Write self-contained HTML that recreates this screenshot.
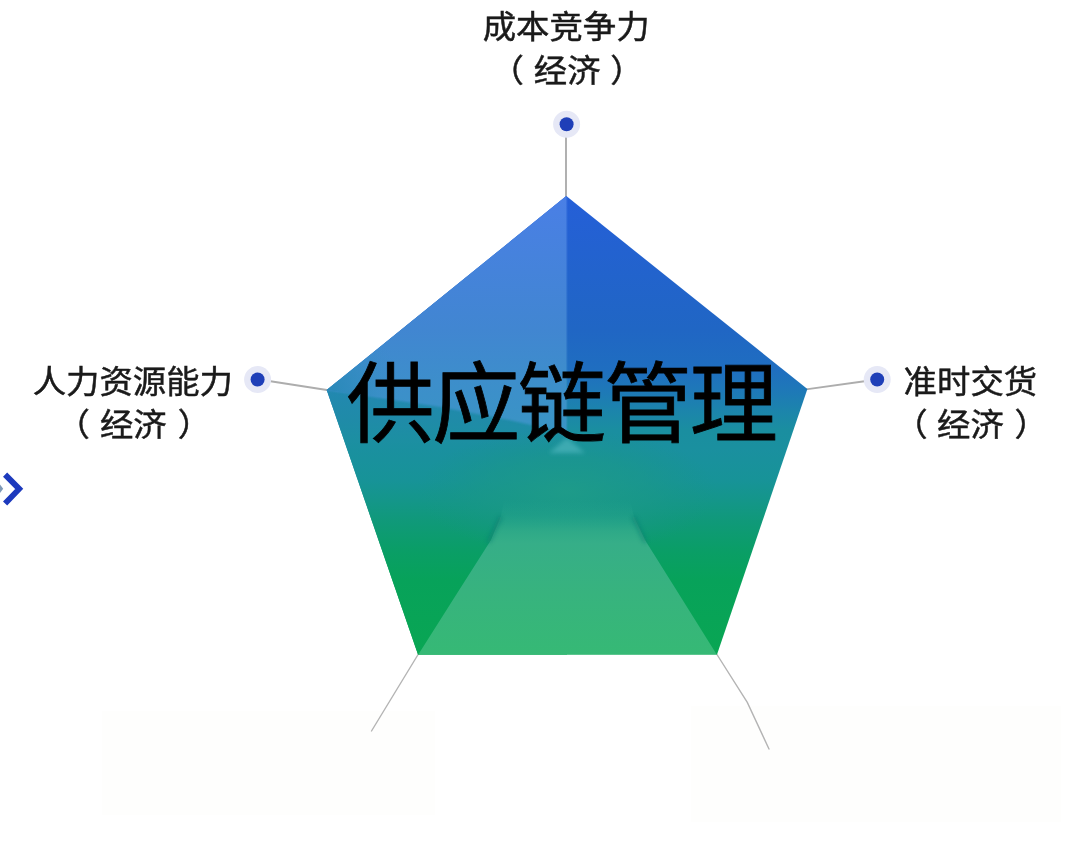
<!DOCTYPE html>
<html lang="zh-CN">
<head>
<meta charset="utf-8">
<title>供应链管理</title>
<style>
  html, body { margin: 0; padding: 0; background: #ffffff; }
  body { width: 1080px; height: 844px; overflow: hidden; position: relative; }
  svg { display: block; position: absolute; left: 0; top: 0; }
  .lbl { font-family: "Liberation Sans", "Noto Sans CJK SC", sans-serif; font-size: 33.4px; fill: #1a1a1a; font-weight: 400; stroke: #1a1a1a; stroke-width: 0.5px; }
  .title { font-family: "Liberation Sans", "Noto Sans CJK SC", sans-serif; font-size: 88px; fill: #000000; font-weight: 400; stroke: #000000; stroke-width: 0.8px; letter-spacing: -2.2px; }
</style>
</head>
<body>
<svg width="1080" height="844" viewBox="0 0 1080 844">
  <defs>
    <linearGradient id="gTL" gradientUnits="userSpaceOnUse" x1="0" y1="195" x2="0" y2="436">
      <stop offset="0.0000" stop-color="#4a7fe6"/>
      <stop offset="0.5602" stop-color="#4186d1"/>
      <stop offset="0.7676" stop-color="#3d8ecb"/>
      <stop offset="0.9336" stop-color="#3a93c6"/>
      <stop offset="1.0000" stop-color="#3995c2"/>
    </linearGradient>
    <linearGradient id="gRight" gradientUnits="userSpaceOnUse" x1="0" y1="195" x2="0" y2="655">
      <stop offset="0.0000" stop-color="#255fd8"/>
      <stop offset="0.2935" stop-color="#2066c4"/>
      <stop offset="0.3804" stop-color="#1f6ec0"/>
      <stop offset="0.4239" stop-color="#1e78b8"/>
      <stop offset="0.4674" stop-color="#1c84ac"/>
      <stop offset="0.5109" stop-color="#1a8ea0"/>
      <stop offset="0.5543" stop-color="#1a909f"/>
      <stop offset="0.6196" stop-color="#179398"/>
      <stop offset="0.6630" stop-color="#14968a"/>
      <stop offset="0.7065" stop-color="#10997a"/>
      <stop offset="0.7739" stop-color="#0a9e66"/>
      <stop offset="0.8370" stop-color="#07a25a"/>
      <stop offset="1.0000" stop-color="#09a653"/>
    </linearGradient>
    <linearGradient id="gL" gradientUnits="userSpaceOnUse" x1="0" y1="390" x2="0" y2="655">
      <stop offset="0.0000" stop-color="#2288b0"/>
      <stop offset="0.1132" stop-color="#1f8ba8"/>
      <stop offset="0.1887" stop-color="#1c8fa2"/>
      <stop offset="0.2264" stop-color="#1a909f"/>
      <stop offset="0.3396" stop-color="#179398"/>
      <stop offset="0.4151" stop-color="#14968a"/>
      <stop offset="0.4906" stop-color="#10997a"/>
      <stop offset="0.6075" stop-color="#0a9e66"/>
      <stop offset="0.7170" stop-color="#07a25a"/>
      <stop offset="1.0000" stop-color="#09a653"/>
    </linearGradient>
    <linearGradient id="gB" gradientUnits="userSpaceOnUse" x1="0" y1="500" x2="0" y2="655">
      <stop offset="0.0000" stop-color="#2aa592" stop-opacity="0"/>
      <stop offset="0.0968" stop-color="#2ea990" stop-opacity="0.3"/>
      <stop offset="0.2000" stop-color="#33ac8a" stop-opacity="0.85"/>
      <stop offset="0.2774" stop-color="#36ae88" stop-opacity="1"/>
      <stop offset="0.6000" stop-color="#37b37e"/>
      <stop offset="1.0000" stop-color="#36b975"/>
    </linearGradient>
    <radialGradient id="gC" gradientUnits="userSpaceOnUse" cx="567" cy="492" r="150" gradientTransform="translate(567 492) scale(1 0.42) translate(-567 -492)">
      <stop offset="0" stop-color="#1f9c88" stop-opacity="0.85"/>
      <stop offset="0.55" stop-color="#1b9888" stop-opacity="0.55"/>
      <stop offset="1" stop-color="#189488" stop-opacity="0"/>
    </radialGradient>
    <radialGradient id="gV" gradientUnits="userSpaceOnUse" cx="326" cy="392" r="75">
      <stop offset="0" stop-color="#2487b4" stop-opacity="0.85"/>
      <stop offset="0.5" stop-color="#2a8ab8" stop-opacity="0.45"/>
      <stop offset="1" stop-color="#3a8ec8" stop-opacity="0"/>
    </radialGradient>
    <filter id="soft" x="-50%" y="-50%" width="200%" height="200%"><feGaussianBlur stdDeviation="2.2"/></filter>
    <filter id="soft1" x="-20%" y="-20%" width="140%" height="140%"><feGaussianBlur stdDeviation="1.1"/></filter>
    <clipPath id="pent"><polygon points="566.3,196.1 807.4,389.1 717,654.6 418,654.6 326.7,390"/></clipPath>
    <clipPath id="cTL"><polygon points="566.3,196.1 326.7,390 380,398 440,407 509,420 553,430 567,436"/></clipPath>
  </defs>

  <!-- faint artefact panels -->
  <rect x="102" y="711" width="333" height="104" fill="#fefefd"/>
  <rect x="691" y="706" width="370" height="116" fill="#fefefd"/>

  <!-- connector lines -->
  <g stroke="#adadad" stroke-width="1.9" fill="none" stroke-linecap="butt">
    <line x1="566" y1="136" x2="566" y2="197"/>
    <line x1="270.5" y1="381.2" x2="328.5" y2="390.2"/>
    <line x1="864.5" y1="381.2" x2="806" y2="389.4"/>
  </g>
  <g stroke="#b4b4b4" stroke-width="1.4" fill="none" stroke-linecap="round">
    <line x1="419" y1="653" x2="371.5" y2="731"/>
    <polyline points="716,653 747.3,702.4 769,749"/>
  </g>

  <!-- pentagon facets -->
  <polygon points="566.3,196.1 807.4,389.1 717,654.6 418,654.6 326.7,390" fill="url(#gRight)"/>
  <g clip-path="url(#pent)">
    <polygon points="320,380 567,380 567,660 320,660" fill="url(#gL)"/>
    <g filter="url(#soft1)">
      <polygon points="566.3,190 320,385 326.7,390 380,398 440,407 509,420 553,430 566.3,436" fill="url(#gTL)"/>
    </g>
    <polygon points="566.3,195 326.7,390 380,397 440,405 509,417 553,426 566.3,430" fill="url(#gTL)"/>
    <g clip-path="url(#cTL)"><circle cx="326" cy="392" r="75" fill="url(#gV)"/></g>
    <ellipse cx="567" cy="492" rx="150" ry="63" fill="url(#gC)"/>
    <polygon points="418,655 456,595 491,540 501,516 504,500 630,500 634,517 645,540 679.5,595 717,655" fill="url(#gB)"/>
    <g filter="url(#soft)" stroke="#0a7f72" stroke-width="4" stroke-linecap="round" opacity="0.6" fill="none">
      <line x1="489" y1="541" x2="500" y2="518"/>
      <line x1="645" y1="541" x2="634" y2="518"/>
    </g>
    <polygon points="549,453 585,453 567,438" fill="#48b2ba" opacity="0.75" filter="url(#soft)"/>
  </g>

  <!-- marker dots -->
  <g>
    <circle cx="566.6" cy="124.2" r="13.5" fill="#e6e8f6"/>
    <circle cx="566.6" cy="124.2" r="7" fill="#1f3fb8"/>
    <circle cx="257.6" cy="379.5" r="13.5" fill="#e6e8f6"/>
    <circle cx="257.6" cy="379.5" r="7" fill="#1f3fb8"/>
    <circle cx="877.2" cy="379.5" r="13.5" fill="#e6e8f6"/>
    <circle cx="877.2" cy="379.5" r="7" fill="#1f3fb8"/>
  </g>

  <!-- chevron -->
  <polyline points="5.1,474.6 19.2,488.9 5.1,503.6" fill="none" stroke="#1d3abd" stroke-width="5.8" stroke-linejoin="miter"/>
  <polygon points="0,484.5 3.2,488.8 0,493" fill="#7f9ab8"/>

  <!-- labels -->
  <g class="lbl" opacity="0.999" transform="scale(1,0.955)">
    <text text-anchor="middle" x="566.2" y="39.9">成本竞争力</text>
    <text y="85.86"><tspan x="490.52">（</tspan><tspan x="533.85">经济</tspan><tspan x="610.28">）</tspan></text>
    <text text-anchor="middle" x="132.8" y="411.62">人力资源能力</text>
    <text y="456.96"><tspan x="56.52">（</tspan><tspan x="99.95">经济</tspan><tspan x="177.68">）</tspan></text>
    <text text-anchor="middle" x="970.4" y="411.62">准时交货</text>
    <text y="456.96"><tspan x="894.22">（</tspan><tspan x="937.05">经济</tspan><tspan x="1014.58">）</tspan></text>
  </g>

  <!-- title -->
  <g opacity="0.999">
    <text class="title" x="346.5" y="435.2">供应链管理</text>
  </g>
</svg>
</body>
</html>
